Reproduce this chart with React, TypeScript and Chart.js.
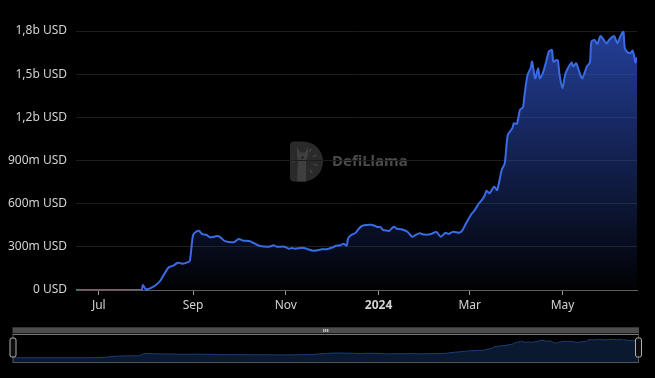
import React, { useEffect, useRef } from 'react';
import { Chart, registerables } from 'chart.js';

Chart.register(...registerables);

// Day offsets from 2023-07-01
const days = [
  -15, 28, 29, 31, 36, 40, 42, 46, 49, 52, 55, 59, 60, 62, 64, 66, 68, 71, 73, 78,
  80, 83, 89, 92, 95, 99, 103, 106, 112, 115, 117, 122, 125, 127, 129, 134, 137, 141, 147, 150,
  154, 156, 159, 161, 163, 164, 166, 169, 170, 173, 176, 179, 182, 183, 185, 187, 190, 191, 194, 196,
  199, 203, 206, 208, 211, 214, 218, 222, 225, 228, 230, 233, 237, 239, 241, 245, 247, 250, 252, 254,
  255, 257, 260, 262, 265, 267, 269, 272, 273, 275, 277, 279, 280, 282, 284, 285, 287, 289, 290, 292,
  294, 296, 298, 299, 301, 302, 303, 305, 307, 311, 312, 314, 316, 318, 321, 323, 324, 326, 328, 330,
  334, 336, 339, 341, 343, 345, 346, 348, 350, 351, 352, 353, 354,
];

// TVL in millions of USD
const tvlMillions = [
  0, 0, 35, 5, 23, 58, 92, 158, 169, 190, 183, 195, 208, 382, 405, 410, 389, 382, 366, 375,
  366, 340, 333, 354, 343, 340, 320, 306, 301, 311, 301, 301, 287, 292, 287, 294, 285, 273, 283, 283,
  297, 308, 311, 322, 308, 359, 382, 398, 412, 445, 452, 454, 445, 438, 438, 417, 412, 410, 440, 426,
  422, 405, 370, 380, 394, 385, 387, 403, 370, 398, 389, 405, 398, 412, 452, 526, 551, 602, 626, 660,
  690, 672, 718, 695, 834, 880, 1077, 1124, 1159, 1154, 1251, 1270, 1355, 1494, 1541, 1587, 1471, 1541, 1471, 1506,
  1576, 1657, 1668, 1587, 1599, 1594, 1500, 1402, 1506, 1581, 1553, 1576, 1517, 1471, 1553, 1581, 1726, 1738, 1710, 1765,
  1715, 1743, 1765, 1715, 1761, 1796, 1680, 1650, 1650, 1664, 1633, 1581, 1617,
];

const tickDays = [0, 62, 123, 184, 244, 305];
const tickLabels = ['Jul', 'Sep', 'Nov', '2024', 'Mar', 'May'];
const boldLabel = '2024';
const yMax = 1800;
const yStep = 300;

const FONT = '"Noto Sans", "Open Sans", sans-serif';
const LABEL_COLOR = '#d2d2d2';

function fmtUsd(v: number): string {
  if (v === 0) return '0 USD';
  if (v >= 1000) return (v / 1000).toFixed(1).replace('.', ',') + 'b USD';
  return v + 'm USD';
}

const points = () => days.map((d, i) => ({ x: d, y: tvlMillions[i] }));

const watermark = {
  id: 'watermark',
  beforeDraw(chart: any) {
    const a = chart.chartArea;
    if (!a) return;
    const ctx = chart.ctx;
    const cx = (a.left + a.right) / 2;
    const cy = (a.top + a.bottom) / 2 + 1;
    ctx.save();
    // D shape
    const left = cx - 66.5;
    const top = cy - 20;
    const h = 40;
    const r = 20;
    const arcX = left + 13;
    ctx.beginPath();
    ctx.moveTo(left + 4, top);
    ctx.lineTo(arcX, top);
    ctx.arc(arcX, cy, r, -Math.PI / 2, Math.PI / 2);
    ctx.lineTo(left + 4, top + h);
    ctx.quadraticCurveTo(left, top + h, left, top + h - 4);
    ctx.lineTo(left, top + 4);
    ctx.quadraticCurveTo(left, top, left + 4, top);
    ctx.closePath();
    ctx.fillStyle = '#2a2a2a';
    ctx.fill();
    // llama silhouette
    ctx.fillStyle = '#3f3f3f';
    ctx.beginPath();
    ctx.moveTo(left + 7, top + 5);
    ctx.lineTo(left + 10, top + 11);
    ctx.lineTo(left + 15, top + 11);
    ctx.lineTo(left + 18, top + 5);
    ctx.lineTo(left + 18, top + 14);
    ctx.lineTo(left + 16, top + 20);
    ctx.lineTo(left + 16, top + h);
    ctx.lineTo(left + 7, top + h);
    ctx.lineTo(left + 8, top + 20);
    ctx.lineTo(left + 7, top + 14);
    ctx.closePath();
    ctx.fill();
    ctx.fillStyle = '#222';
    ctx.fillRect(left + 11, top + 15, 3, 2);
    // rays
    ctx.strokeStyle = '#4a4a4a';
    ctx.lineWidth = 1.2;
    const rays = [-1.0, -0.45, 0.25, 0.9];
    rays.forEach((ang) => {
      const x0 = left + 13 + Math.cos(ang) * 11;
      const y0 = cy + Math.sin(ang) * 11;
      const x1 = left + 13 + Math.cos(ang) * 15;
      const y1 = cy + Math.sin(ang) * 15;
      ctx.beginPath();
      ctx.moveTo(x0, y0);
      ctx.lineTo(x1, y1);
      ctx.stroke();
    });
    ctx.beginPath();
    ctx.moveTo(left + 3, cy - 2);
    ctx.lineTo(left + 3, cy + 1);
    ctx.stroke();
    // text
    ctx.fillStyle = '#4b4b4b';
    ctx.font = `bold 15px ${FONT}`;
    ctx.textBaseline = 'middle';
    ctx.textAlign = 'left';
    ctx.fillText('DefiLlama', cx - 24.5, cy);
    ctx.restore();
  },
};

const sliderChrome = {
  id: 'sliderChrome',
  afterDraw(chart: any) {
    const ctx = chart.ctx;
    const a = chart.chartArea;
    const l = a.left;
    const r = a.right;
    ctx.save();
    // top bar
    ctx.fillStyle = '#4d4d4d';
    ctx.fillRect(l, 7.3, r - l, 6);
    ctx.fillStyle = '#e0e0e0';
    const mid = (l + r) / 2;
    [-2, 0, 2].forEach((o) => ctx.fillRect(mid + o - 0.5, 9, 1, 3));
    // frame
    ctx.strokeStyle = '#777';
    ctx.lineWidth = 1;
    ctx.beginPath();
    ctx.moveTo(l, 14.5);
    ctx.lineTo(r, 14.5);
    ctx.stroke();
    ctx.strokeStyle = '#555';
    ctx.beginPath();
    ctx.moveTo(l, 42.5);
    ctx.lineTo(r, 42.5);
    ctx.moveTo(l + 0.5, 14.5);
    ctx.lineTo(l + 0.5, 42.5);
    ctx.moveTo(r - 0.5, 14.5);
    ctx.lineTo(r - 0.5, 42.5);
    ctx.stroke();
    // handles
    const handle = (x: number) => {
      const w = 6;
      const y = 18;
      const hh = 19;
      const hx = x - w / 2;
      ctx.beginPath();
      ctx.moveTo(hx + 2, y);
      ctx.lineTo(hx + w - 2, y);
      ctx.quadraticCurveTo(hx + w, y, hx + w, y + 2);
      ctx.lineTo(hx + w, y + hh - 2);
      ctx.quadraticCurveTo(hx + w, y + hh, hx + w - 2, y + hh);
      ctx.lineTo(hx + 2, y + hh);
      ctx.quadraticCurveTo(hx, y + hh, hx, y + hh - 2);
      ctx.lineTo(hx, y + 2);
      ctx.quadraticCurveTo(hx, y, hx + 2, y);
      ctx.closePath();
      ctx.fillStyle = '#0d0d0d';
      ctx.fill();
      ctx.strokeStyle = '#b0b0b0';
      ctx.lineWidth = 1;
      ctx.stroke();
    };
    handle(l + 0.5);
    handle(r - 0.5);
    ctx.restore();
  },
};

export default function App() {
  const mainRef = useRef<HTMLCanvasElement>(null);
  const miniRef = useRef<HTMLCanvasElement>(null);

  useEffect(() => {
    const main = new Chart(mainRef.current as HTMLCanvasElement, {
      type: 'line',
      data: {
        datasets: [
          {
            data: points(),
            borderColor: '#3a6be4',
            borderWidth: 2,
            pointRadius: 0,
            tension: 0.25,
            fill: 'origin',
            backgroundColor: (c: any) => {
              const ch = c.chart;
              const a = ch.chartArea;
              if (!a) return 'rgba(0,0,0,0)';
              const g = ch.ctx.createLinearGradient(0, a.top, 0, a.bottom);
              g.addColorStop(0, 'rgba(44,78,190,0.8)');
              g.addColorStop(1, 'rgba(44,78,190,0.02)');
              return g;
            },
          },
        ],
      },
      options: {
        responsive: false,
        animation: false,
        events: [],
        layout: { padding: { left: 0, right: 18, top: 31, bottom: 0 } },
        plugins: { legend: { display: false }, tooltip: { enabled: false } },
        scales: {
          x: {
            type: 'linear',
            min: days[0],
            max: days[days.length - 1],
            afterBuildTicks: (s: any) => {
              s.ticks = tickDays.map((v) => ({ value: v }));
            },
            afterFit: (s: any) => {
              s.height = 30;
            },
            grid: { drawOnChartArea: false, drawTicks: true, tickLength: 5, tickColor: '#9a9a9a' },
            border: { color: '#5e5e5e', width: 1 },
            ticks: {
              autoSkip: false,
              maxRotation: 0,
              padding: 3,
              color: LABEL_COLOR,
              font: (c: any) => {
                const idx = tickDays.indexOf(c.tick ? c.tick.value : -999);
                const bold = idx >= 0 && tickLabels[idx] === boldLabel;
                return { family: FONT, size: 12, weight: bold ? 'bold' : 'normal' };
              },
              callback: (v: any) => {
                const idx = tickDays.indexOf(v);
                return idx >= 0 ? tickLabels[idx] : '';
              },
            },
          },
          y: {
            min: 0,
            max: yMax,
            afterFit: (s: any) => {
              s.width = 76;
            },
            grid: { color: '#1d1d1d', drawTicks: false },
            border: { display: false },
            ticks: {
              stepSize: yStep,
              padding: 9,
              color: LABEL_COLOR,
              font: { family: FONT, size: 12 },
              callback: (v: any) => fmtUsd(Number(v)),
            },
          },
        },
      },
      plugins: [watermark],
    } as any);

    const mini = new Chart(miniRef.current as HTMLCanvasElement, {
      type: 'line',
      data: {
        datasets: [
          {
            data: points(),
            borderColor: '#1c3e76',
            borderWidth: 1,
            pointRadius: 0,
            tension: 0,
            fill: 'start',
            backgroundColor: '#0a1930',
          },
        ],
      },
      options: {
        responsive: false,
        animation: false,
        events: [],
        layout: { padding: { left: 12.5, right: 16, top: 19, bottom: 7.5 } },
        plugins: { legend: { display: false }, tooltip: { enabled: false } },
        scales: {
          x: { type: 'linear', display: false, min: days[0], max: days[days.length - 1] },
          y: { display: false, min: -450, max: yMax },
        },
      },
      plugins: [sliderChrome],
    } as any);

    return () => {
      main.destroy();
      mini.destroy();
    };
  }, []);

  return (
    <div
      style={{
        position: 'fixed',
        left: 0,
        top: 0,
        width: 655,
        height: 378,
        background: '#000',
        overflow: 'hidden',
      }}
    >
      <canvas
        ref={mainRef}
        width={655}
        height={320}
        style={{ position: 'absolute', left: 0, top: 0, width: 655, height: 320 }}
      />
      <canvas
        ref={miniRef}
        width={655}
        height={50}
        style={{ position: 'absolute', left: 0, top: 320, width: 655, height: 50 }}
      />
    </div>
  );
}
